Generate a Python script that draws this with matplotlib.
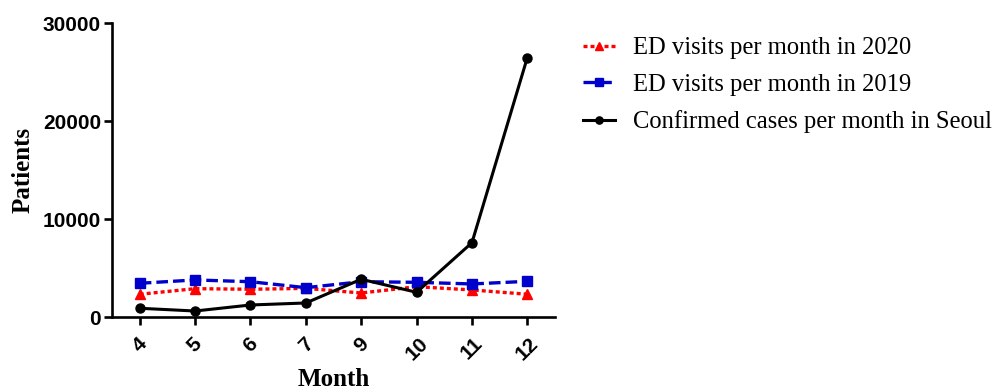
import matplotlib
matplotlib.use('Agg')
import matplotlib.pyplot as plt

# Dados
meses = ['4', '5', '6', '7', '9', '10', '11', '12']
ed_2020 = [2350, 2920, 2860, 2950, 2480, 3120, 2790, 2350]
ed_2019 = [3470, 3810, 3630, 3020, 3630, 3570, 3400, 3670]
casos_seoul = [920, 640, 1255, 1460, 3880, 2550, 7610, 26500]

fig = plt.figure(figsize=(9.95, 3.92), dpi=100)
ax = fig.add_axes([0.1126, 0.1906, 0.4452, 0.75])

x = range(len(meses))
l1, = ax.plot(x, ed_2020, color='#ff0000', linestyle=(0, (1.2, 0.9)), linewidth=2.4,
              marker='^', markersize=7, label='ED visits per month in 2020')
l2, = ax.plot(x, ed_2019, color='#0000cc', linestyle=(0, (3.5, 1.5)), linewidth=2.4,
              marker='s', markersize=6.5, label='ED visits per month in 2019')
l3, = ax.plot(x, casos_seoul, color='black', linestyle='-', linewidth=2.2,
              marker='o', markersize=6.5, label='Confirmed cases per month in Seoul')

ax.set_xlim(-0.5, 7.5)
ax.set_ylim(0, 30000)
ax.set_yticks([0, 10000, 20000, 30000])
ax.set_xticks(list(x))
ax.set_xticklabels(meses, rotation=45, ha='center')

for s in ['top', 'right']:
    ax.spines[s].set_visible(False)
for s in ['left', 'bottom']:
    ax.spines[s].set_linewidth(1.9)

ax.tick_params(axis='both', width=1.9, length=6, labelsize=15)
ax.tick_params(axis='x', pad=6)
ax.tick_params(axis='y', pad=2)
for lbl in ax.get_xticklabels() + ax.get_yticklabels():
    lbl.set_fontfamily('Liberation Sans')
    lbl.set_fontweight('bold')

ax.set_xlabel('Month', fontsize=18, fontweight='bold', family='Liberation Serif', labelpad=3)
ax.set_ylabel('Patients', fontsize=18, fontweight='bold', family='Liberation Serif', labelpad=6)

# Legenda à direita do gráfico
fig.legend(handles=[l1, l2, l3], loc='upper left', bbox_to_anchor=(0.586, 0.905),
           frameon=False, prop={'family': 'Liberation Serif', 'size': 17.7},
           borderpad=0, borderaxespad=0,
           handlelength=1.3, handletextpad=0.73, labelspacing=0.58, markerscale=0.8)

fig.savefig('out.png', dpi=100)
